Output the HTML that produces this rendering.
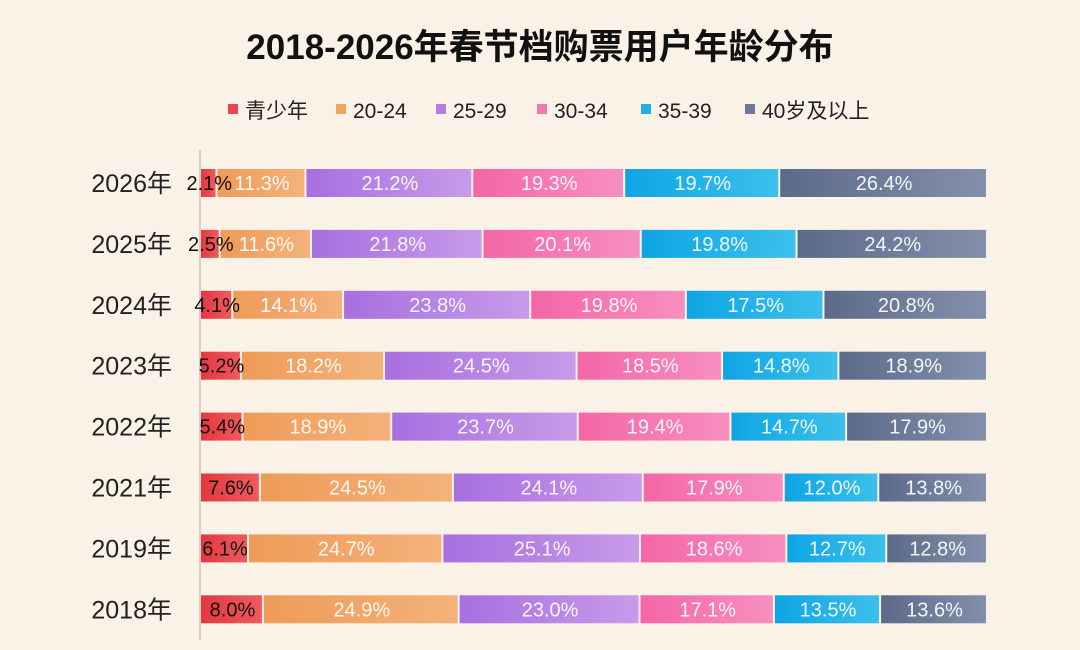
<!DOCTYPE html>
<html><head><meta charset="utf-8">
<style>
body{margin:0;width:1080px;height:645px;background:#faf1e7;font-family:"Liberation Sans","Noto Sans CJK SC",sans-serif;overflow:hidden}
</style></head><body>
<svg width="1080" height="645" id="svg" xmlns="http://www.w3.org/2000/svg">
<defs>
<linearGradient id="g0"><stop offset="0" stop-color="#e3383f"/><stop offset="1" stop-color="#ef5a5e"/></linearGradient>
<linearGradient id="g1"><stop offset="0" stop-color="#ee9b58"/><stop offset="1" stop-color="#f4b27a"/></linearGradient>
<linearGradient id="g2"><stop offset="0" stop-color="#a86fe0"/><stop offset="1" stop-color="#c79bea"/></linearGradient>
<linearGradient id="g3"><stop offset="0" stop-color="#f466a6"/><stop offset="1" stop-color="#f78fc0"/></linearGradient>
<linearGradient id="g4"><stop offset="0" stop-color="#0ea5e4"/><stop offset="1" stop-color="#3cc0ec"/></linearGradient>
<linearGradient id="g5"><stop offset="0" stop-color="#5c6a8a"/><stop offset="1" stop-color="#8390ab"/></linearGradient>
</defs>
<text x="540" y="59" text-anchor="middle" font-size="35" font-weight="bold" fill="#111">2018-2026年春节档购票用户年龄分布</text>
<line x1="200" y1="150" x2="200" y2="640" stroke="#d8d0c8" stroke-width="2"/>
</svg>
<script>
const categories=["2026年","2025年","2024年","2023年","2022年","2021年","2019年","2018年"];
const seriesNames=["青少年","20-24","25-29","30-34","35-39","40岁及以上"];
const teen=[2.1,2.5,4.1,5.2,5.4,7.6,6.1,8.0];
const a20=[11.3,11.6,14.1,18.2,18.9,24.5,24.7,24.9];
const a25=[21.2,21.8,23.8,24.5,23.7,24.1,25.1,23.0];
const a30=[19.3,20.1,19.8,18.5,19.4,17.9,18.6,17.1];
const a35=[19.7,19.8,17.5,14.8,14.7,12.0,12.7,13.5];
const a40=[26.4,24.2,20.8,18.9,17.9,13.8,12.8,13.6];
const series=[teen,a20,a25,a30,a35,a40];
const colors=["#e8474f","#f0a463","#b57de6","#f478b0","#1fb0e6","#6b7a99"];
const svg=document.getElementById('svg');const NS="http://www.w3.org/2000/svg";
function mk(t,a){const e=document.createElementNS(NS,t);for(const k in a)e.setAttribute(k,a[k]);svg.appendChild(e);return e;}
const x0=201,W=787,yTop=183,step=60.9,bh=28;
const yPos=i=>yTop+i*step;
const legX=[228,336,436,537,641,745];
seriesNames.forEach((n,j)=>{
 const r=mk('rect',{x:legX[j],y:104,width:10,height:10,fill:colors[j]});
 
 
 const t=mk('text',{x:legX[j]+17,y:118,'font-size':21,fill:'#222'});t.textContent=n;
 
 
});
const labels=[];
categories.forEach((c,i)=>{
 const cy=yPos(i);
 const t=mk('text',{x:172,y:cy+9,'text-anchor':'end','font-size':25,fill:'#222'});t.textContent=c;
 
 
 let tot=0;series.forEach(s=>tot+=s[i]);
 let x=x0;
 series.forEach((s,j)=>{
  const w=s[i]/tot*W;
  const r=mk('rect',{x:x,y:cy-bh/2,width:Math.max(w-2,1),height:bh,fill:'url(#g'+j+')'});
  
  
  const lx=j==0?Math.max(x+w/2,208):x+w/2;
  labels.push([lx,cy,j,s[i]]);
  x+=w;
 });
});
labels.forEach(([lx,cy,j,v])=>{
  const l=mk('text',{x:lx,y:cy+7,'text-anchor':'middle','font-size':20,fill:j==0?'#111':'rgba(255,255,255,0.92)'});
  l.textContent=v.toFixed(1)+'%';
  
  
});
</script>
</body></html>
